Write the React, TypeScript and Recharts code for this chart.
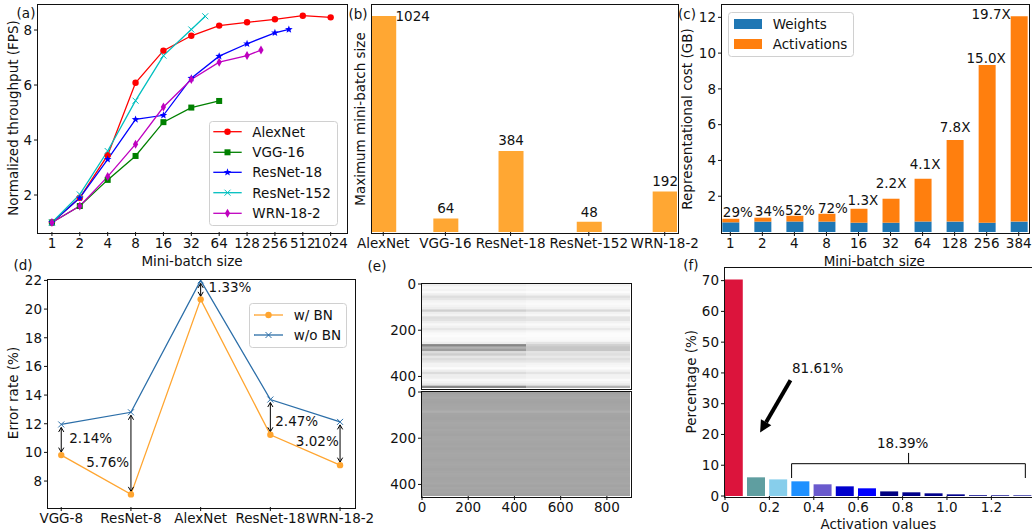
import React from "react";
import {
  ComposedChart,
  Line,
  Bar,
  Cell,
  XAxis,
  YAxis,
  Legend,
  LabelList,
  ReferenceLine,
} from "recharts";

// (a) throughput vs mini-batch size
const batchLabels = ["1", "2", "4", "8", "16", "32", "64", "128", "256", "512", "1024"];
const batchSteps = [0, 1, 2, 3, 4, 5, 6, 7, 8, 9, 10];
const alexFps = [1.0, 1.9, 3.45, 6.08, 7.25, 7.79, 8.16, 8.28, 8.39, 8.52, 8.46];
const vggFps = [1.0, 1.6, 2.55, 3.42, 4.65, 5.18, 5.42];
const res18Fps = [1.0, 1.9, 3.3, 4.75, 4.9, 6.25, 7.05, 7.5, 7.9, 8.02];
const res18Steps = [0, 1, 2, 3, 4, 5, 6, 7, 8, 8.5];
const res152Fps = [1.0, 2.02, 3.6, 5.43, 7.07, 8.02, 8.5];
const res152Steps = [0, 1, 2, 3, 4, 5, 5.5];
const wrnFps = [1.0, 1.6, 2.67, 3.85, 5.2, 6.2, 6.83, 7.07, 7.27];
const wrnSteps = [0, 1, 2, 3, 4, 5, 6, 7, 7.5];

// (b) maximum mini-batch size
const netNames = ["AlexNet", "VGG-16", "ResNet-18", "ResNet-152", "WRN-18-2"];
const netSlots = [0, 0.81, 1.66, 2.68, 3.67];
const maxBatch = [1024, 64, 384, 48, 192];

// (c) representational cost
const costLabels = ["1", "2", "4", "8", "16", "32", "64", "128", "256", "384"];
const weightsGb = [0.54, 0.58, 0.58, 0.58, 0.52, 0.52, 0.58, 0.58, 0.52, 0.58];
const activationsGb = [0.2, 0.22, 0.33, 0.44, 0.78, 1.34, 2.39, 4.57, 8.81, 11.48];
const costNotes = ["29%", "34%", "52%", "72%", "1.3X", "2.2X", "4.1X", "7.8X", "15.0X", "19.7X"];

// (d) error rate
const errorNets = ["VGG-8", "ResNet-8", "AlexNet", "ResNet-18", "WRN-18-2"];
const withBn = [9.81, 7.07, 20.68, 11.23, 9.11];
const withoutBn = [11.95, 12.8, 22.0, 13.69, 12.13];

// (e) activation maps, grey level of every 10th row
const topLeftGrey = [238, 248, 243, 250, 238, 222, 230, 243, 248, 243, 238, 208, 238, 243, 222, 226, 238, 248, 241, 230, 243, 250, 252, 248, 248, 238, 135, 178, 158, 220, 205, 230, 220, 230, 243, 243, 252, 238, 220, 238, 238, 248, 243, 230, 135];
const topRightGrey = [242, 250, 247, 252, 242, 224, 233, 247, 250, 247, 242, 218, 242, 247, 228, 228, 242, 250, 244, 233, 247, 252, 252, 250, 247, 228, 208, 198, 198, 228, 223, 233, 223, 231, 244, 247, 252, 242, 228, 242, 242, 250, 244, 233, 178];
const bottomGrey = [160, 165, 168, 164, 163, 165, 166, 167, 174, 165, 164, 163, 165, 167, 166, 164, 167, 165, 163, 166, 167, 165, 164, 166, 163, 165, 167, 166, 165, 164, 166, 167, 165, 163, 166, 167, 166, 164, 165, 167, 163, 166, 164, 165, 161];

// (f) activation histogram
const histBins = [0.04, 0.14, 0.24, 0.34, 0.44, 0.54, 0.64, 0.74, 0.84, 0.94, 1.04, 1.14, 1.24, 1.34];
const histPercent = [70.4, 6.07, 5.4, 4.77, 3.8, 3.14, 2.5, 1.5, 1.2, 0.87, 0.54, 0.25, 0.22, 0.2];
const histColors = ["#dc143c", "#5f9ea0", "#87ceeb", "#1e90ff", "#6a5acd", "#0000cd", "#0000ff", "#000080", "#00008b", "#00008b", "#00008b", "#00008b", "#00008b", "#00008b"];

const FONT = "'DejaVu Sans'";
const ORANGE = "#ffa733";
const LINE_ORANGE = "#ffa530";
const STEEL = "#2b6ea8";
const INK = "#111";
const PAD = { l: 50, t: 10, r: 40, b: 40 };

const tickStyle = { fontSize: 13.5, fill: INK, fontFamily: FONT };
const axisBase = {
  tick: tickStyle,
  axisLine: false,
  tickLine: { stroke: INK, strokeWidth: 1 },
  tickSize: 4,
  tickMargin: 2,
  allowDataOverflow: true,
  interval: 0 as const,
};

const zip = (xs: number[], ys: number[]) => ys.map((y, i) => ({ x: xs[i], y }));

type Box = { l: number; t: number; r: number; b: number };

const boxA: Box = { l: 38, t: 5, r: 346, b: 232 };
const boxB: Box = { l: 372, t: 5, r: 677, b: 232 };
const boxC: Box = { l: 722, t: 5, r: 1028, b: 232 };
const boxD: Box = { l: 48, t: 280, r: 354, b: 507 };
const boxE1: Box = { l: 422, t: 284, r: 630, b: 388 };
const boxE2: Box = { l: 422, t: 392, r: 630, b: 496 };
const boxF: Box = { l: 725, t: 268, r: 1032, b: 496 };

function Panel({ box, layout, data, children }: { box: Box; layout?: "vertical"; data?: any[]; children: React.ReactNode }) {
  return (
    <>
      <div style={{ position: "absolute", left: box.l - PAD.l, top: box.t - PAD.t }}>
        <ComposedChart
          width={box.r - box.l + PAD.l + PAD.r}
          height={box.b - box.t + PAD.t + PAD.b}
          data={data}
          layout={layout}
          margin={{ top: PAD.t, right: PAD.r, left: 0, bottom: 0 }}
        >
          {children}
        </ComposedChart>
      </div>
      <div
        style={{
          position: "absolute",
          left: box.l - 1,
          top: box.t - 1,
          width: box.r - box.l + 1,
          height: box.b - box.t + 1,
          border: "1px solid #111",
          pointerEvents: "none",
        }}
      />
    </>
  );
}

function marker(kind: string, x: number, y: number, color: string, key?: React.Key) {
  if (kind === "circle") return <circle key={key} cx={x} cy={y} r={3.2} fill={color} />;
  if (kind === "square") return <rect key={key} x={x - 3} y={y - 3} width={6} height={6} fill={color} />;
  if (kind === "cross")
    return (
      <path key={key} d={`M${x - 3} ${y - 3}L${x + 3} ${y + 3}M${x - 3} ${y + 3}L${x + 3} ${y - 3}`} stroke={color} strokeWidth={1} fill="none" />
    );
  if (kind === "diamond")
    return <path key={key} d={`M${x} ${y - 4.5}L${x + 2.6} ${y}L${x} ${y + 4.5}L${x - 2.6} ${y}Z`} fill={color} />;
  if (kind === "star") {
    const pts = [];
    for (let i = 0; i < 10; i++) {
      const r = i % 2 ? 1.7 : 4;
      const a = (-90 + i * 36) * (Math.PI / 180);
      pts.push(`${x + r * Math.cos(a)},${y + r * Math.sin(a)}`);
    }
    return <polygon key={key} points={pts.join(" ")} fill={color} />;
  }
  return null;
}

const dotOf = (kind: string, color: string) => (p: any) => marker(kind, p.cx, p.cy, color, p.index);

type LegendRow = { label: string; color: string; kind?: string; swatch?: boolean };

function LegendBox({ w, h, rows, ys, x0, x1, tx }: { w: number; h: number; rows: LegendRow[]; ys: number[]; x0: number; x1: number; tx: number }) {
  return (
    <svg width={w} height={h} style={{ display: "block", overflow: "visible" }}>
      <rect x={0.5} y={0.5} width={w - 1} height={h - 1} rx={3} fill="#fff" fillOpacity={0.85} stroke="#d0d0d0" />
      {rows.map((row, i) => (
        <g key={row.label}>
          {row.swatch ? (
            <rect x={x0} y={ys[i] - 5} width={x1 - x0} height={10} fill={row.color} />
          ) : (
            <>
              <line x1={x0} x2={x1} y1={ys[i]} y2={ys[i]} stroke={row.color} strokeWidth={1.3} />
              {marker(row.kind || "", (x0 + x1) / 2, ys[i], row.color)}
            </>
          )}
          <text x={tx} y={ys[i]} dominantBaseline="central" style={tickStyle}>
            {row.label}
          </text>
        </g>
      ))}
    </svg>
  );
}

function legendAt(box: Box, px: number, py: number, w: number, h: number, content: React.ReactElement) {
  return (
    <Legend
      layout="vertical"
      align="center"
      verticalAlign="middle"
      wrapperStyle={{ left: px - (box.l - PAD.l), top: py - (box.t - PAD.t), width: w, height: h }}
      content={() => content}
    />
  );
}

const batchRows: LegendRow[] = [
  { label: "AlexNet", color: "#ff0000", kind: "circle" },
  { label: "VGG-16", color: "#008000", kind: "square" },
  { label: "ResNet-18", color: "#0000ff", kind: "star" },
  { label: "ResNet-152", color: "#00bfbf", kind: "cross" },
  { label: "WRN-18-2", color: "#bf00bf", kind: "diamond" },
];

const batchSeries = [
  { rows: zip(batchSteps, alexFps), ...batchRows[0] },
  { rows: zip(batchSteps, vggFps), ...batchRows[1] },
  { rows: zip(res18Steps, res18Fps), ...batchRows[2] },
  { rows: zip(res152Steps, res152Fps), ...batchRows[3] },
  { rows: zip(wrnSteps, wrnFps), ...batchRows[4] },
];

function PanelA() {
  return (
    <Panel box={boxA}>
      <XAxis {...axisBase} type="number" dataKey="x" height={PAD.b} domain={[-0.5, 10.55]} ticks={batchSteps} tickFormatter={(v: number) => batchLabels[v]} />
      <YAxis {...axisBase} type="number" dataKey="y" width={PAD.l} domain={[0.655, 8.91]} ticks={[2, 4, 6, 8]} />
      {batchSeries.map((s) => (
        <Line
          key={s.label}
          data={s.rows}
          dataKey="y"
          stroke={s.color}
          strokeWidth={1.3}
          dot={dotOf(s.kind!, s.color)}
          isAnimationActive={false}
        />
      ))}
      {legendAt(boxA, 209, 121, 129, 105, (
        <LegendBox w={129} h={105} rows={batchRows} ys={[10.7, 31.3, 51.3, 71.7, 92.3]} x0={4.3} x1={32.7} tx={43.3} />
      ))}
    </Panel>
  );
}

const maxBatchRows = netSlots.map((x, i) => ({ x, v: maxBatch[i] }));
const maxNudge = [
  [29, 9],
  [0, -1],
  [0, -2],
  [0, -1],
  [0, -1],
];

function PanelB() {
  return (
    <Panel box={boxB} data={maxBatchRows}>
      <XAxis {...axisBase} type="number" dataKey="x" height={PAD.b} domain={[-0.147, 3.83]} ticks={netSlots} tickFormatter={(v: number) => netNames[netSlots.indexOf(v)]} />
      <YAxis {...axisBase} type="number" width={PAD.l} domain={[0, 1076]} tick={false} tickLine={false} />
      <Bar dataKey="v" fill={ORANGE} barSize={25} isAnimationActive={false}>
        <LabelList
          dataKey="v"
          content={(p: any) => (
            <text
              x={p.x + p.width / 2 + maxNudge[p.index][0]}
              y={p.y - 9 + maxNudge[p.index][1]}
              textAnchor="middle"
              dominantBaseline="central"
              style={tickStyle}
            >
              {p.value}
            </text>
          )}
        />
      </Bar>
    </Panel>
  );
}

const costRows = costLabels.map((_, i) => ({ x: i, weights: weightsGb[i], activations: activationsGb[i] }));
const costNudge = [
  [7, 7],
  [7, 7],
  [5, 6],
  [6, 6],
  [4, 9],
  [0, 16],
  [2, 15],
  [0, 13],
  [-1, 7],
  [-28, 2],
];

function PanelC() {
  return (
    <Panel box={boxC} data={costRows}>
      <XAxis {...axisBase} type="number" dataKey="x" height={PAD.b} domain={[-0.26, 9.29]} ticks={costRows.map((r) => r.x)} tickFormatter={(v: number) => costLabels[v]} />
      <YAxis {...axisBase} type="number" width={PAD.l} domain={[0, 12.69]} ticks={[2, 4, 6, 8, 10, 12]} />
      <Bar dataKey="weights" stackId="c" fill="#1f77b4" barSize={17} isAnimationActive={false} />
      <Bar dataKey="activations" stackId="c" fill="#ff7f0e" barSize={17} isAnimationActive={false}>
        <LabelList
          dataKey="x"
          content={(p: any) => (
            <text
              x={p.x + p.width / 2 + costNudge[p.index][0]}
              y={p.y - costNudge[p.index][1]}
              textAnchor="middle"
              dominantBaseline="central"
              style={tickStyle}
            >
              {costNotes[p.index]}
            </text>
          )}
        />
      </Bar>
      {legendAt(boxC, 728, 12, 126, 45, (
        <LegendBox
          w={126}
          h={45}
          rows={[
            { label: "Weights", color: "#1f77b4", swatch: true },
            { label: "Activations", color: "#ff7f0e", swatch: true },
          ]}
          ys={[12, 32]}
          x0={6}
          x1={34}
          tx={44.7}
        />
      ))}
    </Panel>
  );
}

const errorRows = errorNets.map((_, i) => ({ x: i, bn: withBn[i], noBn: withoutBn[i] }));

function arrowShape(p: any) {
  const top = p.y1 + 3;
  const bottom = p.y2 - 3;
  return (
    <path
      d={`M${p.x1} ${top}L${p.x1} ${bottom}M${p.x1 - 2.6} ${top + 4.5}L${p.x1} ${top}L${p.x1 + 2.6} ${top + 4.5}M${p.x1 - 2.6} ${bottom - 4.5}L${p.x1} ${bottom}L${p.x1 + 2.6} ${bottom - 4.5}`}
      stroke="#000"
      strokeWidth={1}
      fill="none"
    />
  );
}

function PanelD() {
  return (
    <Panel box={boxD} data={errorRows}>
      <XAxis {...axisBase} type="number" dataKey="x" height={PAD.b} domain={[-0.19, 4.2]} ticks={errorRows.map((r) => r.x)} tickFormatter={(v: number) => errorNets[v]} />
      <YAxis {...axisBase} type="number" width={PAD.l} domain={[6.19, 22.03]} ticks={[8, 10, 12, 14, 16, 18, 20, 22]} />
      <Line dataKey="bn" stroke={LINE_ORANGE} strokeWidth={1.3} dot={dotOf("circle", LINE_ORANGE)} isAnimationActive={false} />
      <Line dataKey="noBn" stroke={STEEL} strokeWidth={1.3} dot={dotOf("cross", STEEL)} isAnimationActive={false} />
      {errorRows.map((r) => (
        <ReferenceLine
          key={r.x}
          ifOverflow="visible"
          segment={[
            { x: r.x, y: r.noBn },
            { x: r.x, y: r.bn },
          ]}
          shape={arrowShape}
        />
      ))}
      {legendAt(boxD, 249, 303, 98, 45, (
        <LegendBox
          w={98}
          h={45}
          rows={[
            { label: "w/ BN", color: LINE_ORANGE, kind: "circle" },
            { label: "w/o BN", color: STEEL, kind: "cross" },
          ]}
          ys={[12, 32]}
          x0={5}
          x1={34}
          tx={44.7}
        />
      ))}
    </Panel>
  );
}

const grey = (g: number) => `rgb(${g},${g},${g})`;

// rows are thinner than a rounded bar, so each one is drawn a little taller to close the gaps
const heatRow = (p: any) => <rect x={p.x} y={p.y} width={p.width} height={Math.max(p.height, 2) + 1.5} fill={p.fill} />;

function HeatPanel({ box, left, right, showX }: { box: Box; left: number[]; right: number[]; showX: boolean }) {
  const rows = left.map((_, i) => ({ row: i * 10 + 5, a: 450, b: 450 }));
  const xProps = showX ? {} : { tick: false, tickLine: false };
  return (
    <Panel box={box} layout="vertical" data={rows}>
      <XAxis {...axisBase} {...xProps} type="number" height={PAD.b} domain={[0, 900]} ticks={[0, 200, 400, 600, 800]} />
      <YAxis {...axisBase} type="number" dataKey="row" width={PAD.l} domain={[0, 450]} ticks={[0, 200, 400]} />
      <Bar dataKey="a" stackId="h" barSize={2} shape={heatRow} isAnimationActive={false}>
        {left.map((g, i) => (
          <Cell key={i} fill={grey(g)} />
        ))}
      </Bar>
      <Bar dataKey="b" stackId="h" barSize={2} shape={heatRow} isAnimationActive={false}>
        {right.map((g, i) => (
          <Cell key={i} fill={grey(g)} />
        ))}
      </Bar>
    </Panel>
  );
}

const histRows = histBins.map((x, i) => ({ x, v: histPercent[i] }));

function thickArrow(p: any) {
  const dx = p.x2 - p.x1;
  const dy = p.y2 - p.y1;
  const len = Math.hypot(dx, dy);
  const ux = dx / len;
  const uy = dy / len;
  const baseX = p.x2 - ux * 12;
  const baseY = p.y2 - uy * 12;
  return (
    <g>
      <line x1={p.x1} y1={p.y1} x2={baseX} y2={baseY} stroke="#000" strokeWidth={4} />
      <polygon points={`${p.x2},${p.y2} ${baseX - uy * 6},${baseY + ux * 6} ${baseX + uy * 6},${baseY - ux * 6}`} fill="#000" />
    </g>
  );
}

const bracketSegments = [
  [0.3, 5.85, 0.3, 10.5],
  [0.3, 10.5, 1.353, 10.5],
  [1.353, 10.5, 1.353, 5.85],
  [0.827, 10.5, 0.827, 14],
];

function PanelF() {
  return (
    <Panel box={boxF} data={histRows}>
      <XAxis {...axisBase} type="number" dataKey="x" height={PAD.b} domain={[0, 1.383]} ticks={[0, 0.2, 0.4, 0.6, 0.8, 1.0, 1.2]} tickFormatter={(v: number) => (v === 0 ? "0" : v.toFixed(1))} />
      <YAxis {...axisBase} type="number" width={PAD.l} domain={[0, 74.1]} ticks={[0, 10, 20, 30, 40, 50, 60, 70]} />
      <Bar dataKey="v" barSize={18} isAnimationActive={false}>
        {histColors.map((c, i) => (
          <Cell key={i} fill={c} />
        ))}
      </Bar>
      <ReferenceLine
        ifOverflow="visible"
        segment={[
          { x: 0.295, y: 37.6 },
          { x: 0.158, y: 20.6 },
        ]}
        shape={thickArrow}
      />
      {bracketSegments.map((s, i) => (
        <ReferenceLine
          key={i}
          ifOverflow="visible"
          stroke="#000"
          strokeWidth={1}
          segment={[
            { x: s[0], y: s[1] },
            { x: s[2], y: s[3] },
          ]}
        />
      ))}
    </Panel>
  );
}

// text that sits outside the plots: x, y of the text centre
const flatText: [string, number, number][] = [
  ["(a)", 26, 13],
  ["(b)", 358, 14],
  ["(c)", 687, 14],
  ["(d)", 23, 265],
  ["(e)", 377, 266],
  ["(f)", 691, 265],
  ["Mini-batch size", 192, 260.7],
  ["Mini-batch size", 874.3, 260.7],
  ["Activation values", 878.3, 524.3],
  ["2.14%", 90.7, 438.3],
  ["5.76%", 107.7, 462.3],
  ["1.33%", 230, 287.3],
  ["2.47%", 296.7, 420.7],
  ["3.02%", 317.3, 440.7],
  ["81.61%", 817.7, 368.3],
  ["18.39%", 902.7, 442.7],
];
const sideText: [string, number, number][] = [
  ["Normalized throughput (FPS)", 13, 118],
  ["Maximum mini-batch size", 360, 119],
  ["Representational cost (GB)", 686.7, 119],
  ["Error rate (%)", 13.3, 393],
  ["Percentage (%)", 691, 381.7],
];

function Overlay() {
  return (
    <svg width={1032} height={531} style={{ position: "absolute", left: 0, top: 0, pointerEvents: "none" }}>
      {flatText.map(([t, x, y]) => (
        <text key={t + x} x={x} y={y} textAnchor="middle" dominantBaseline="central" style={tickStyle}>
          {t}
        </text>
      ))}
      {sideText.map(([t, x, y]) => (
        <text key={t} x={x} y={y} textAnchor="middle" dominantBaseline="central" transform={`rotate(-90 ${x} ${y})`} style={tickStyle}>
          {t}
        </text>
      ))}
    </svg>
  );
}

export default function App() {
  return (
    <div style={{ position: "absolute", left: 0, top: 0, width: 1032, height: 531, overflow: "hidden", background: "#fff", fontFamily: FONT }}>
      <PanelA />
      <PanelB />
      <PanelC />
      <PanelD />
      <HeatPanel box={boxE1} left={topLeftGrey} right={topRightGrey} showX={false} />
      <HeatPanel box={boxE2} left={bottomGrey} right={bottomGrey} showX={true} />
      <PanelF />
      <Overlay />
    </div>
  );
}
